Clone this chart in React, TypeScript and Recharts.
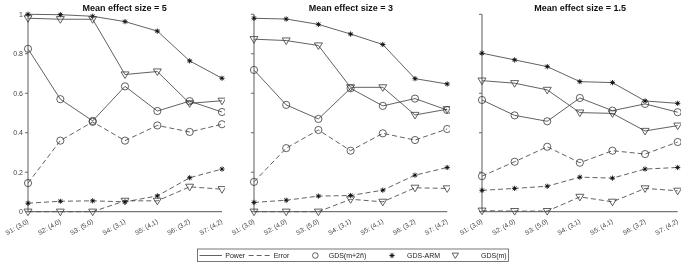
import React from "react";
import { LineChart, Line, XAxis, YAxis } from "recharts";

const categories = ["S1: (3,0)", "S2: (4,0)", "S3: (5,0)", "S4: (3,1)", "S5: (4,1)", "S6: (3,2)", "S7: (4,2)"];
const panelTitles = ["Mean effect size = 5", "Mean effect size = 3", "Mean effect size = 1.5"];
const yTicks = [0, 0.2, 0.4, 0.6, 0.8, 1];

// Mean effect size = 5
const p5PowerM2n = [0.825, 0.57, 0.46, 0.635, 0.51, 0.56, 0.505];
const p5ErrorM2n = [0.145, 0.36, 0.455, 0.36, 0.437, 0.404, 0.443];
const p5PowerArm = [1.0, 0.998, 0.99, 0.963, 0.915, 0.764, 0.676];
const p5ErrorArm = [0.043, 0.053, 0.055, 0.05, 0.08, 0.172, 0.216];
const p5PowerM = [0.98, 0.975, 0.975, 0.695, 0.71, 0.549, 0.562];
const p5ErrorM = [0, 0, 0, 0.055, 0.055, 0.126, 0.114];

// Mean effect size = 3
const p3PowerM2n = [0.718, 0.541, 0.47, 0.625, 0.536, 0.573, 0.515];
const p3ErrorM2n = [0.151, 0.322, 0.414, 0.309, 0.397, 0.363, 0.419];
const p3PowerArm = [0.98, 0.976, 0.949, 0.9, 0.847, 0.674, 0.647];
const p3ErrorArm = [0.047, 0.058, 0.079, 0.082, 0.109, 0.185, 0.224];
const p3PowerM = [0.874, 0.867, 0.842, 0.63, 0.63, 0.49, 0.519];
const p3ErrorM = [0, 0, 0, 0.063, 0.05, 0.121, 0.118];

// Mean effect size = 1.5
const p15PowerM2n = [0.566, 0.488, 0.458, 0.576, 0.512, 0.546, 0.504];
const p15ErrorM2n = [0.18, 0.253, 0.329, 0.248, 0.309, 0.292, 0.353];
const p15PowerArm = [0.803, 0.769, 0.735, 0.659, 0.654, 0.561, 0.549];
const p15ErrorArm = [0.108, 0.118, 0.129, 0.175, 0.17, 0.216, 0.224];
const p15PowerM = [0.664, 0.651, 0.617, 0.502, 0.498, 0.409, 0.436];
const p15ErrorM = [0.005, 0.003, 0.003, 0.075, 0.05, 0.118, 0.106];

const legendLabels = ["Power", "Error", "GDS(m+2ñ)", "GDS-ARM", "GDS(m)"];

const FONT = "'Liberation Sans', Arial, sans-serif";
const LINE = "#3a3a3a";

const buildRows = (pm2n: number[], em2n: number[], parm: number[], earm: number[], pm: number[], em: number[]) =>
  categories.map((c, i) => ({
    cat: c,
    pm2n: pm2n[i],
    em2n: em2n[i],
    parm: parm[i],
    earm: earm[i],
    pm: pm[i],
    em: em[i],
  }));

const panels = [
  { title: panelTitles[0], rows: buildRows(p5PowerM2n, p5ErrorM2n, p5PowerArm, p5ErrorArm, p5PowerM, p5ErrorM), left: 27.7, right: 221.7, labels: true },
  { title: panelTitles[1], rows: buildRows(p3PowerM2n, p3ErrorM2n, p3PowerArm, p3ErrorArm, p3PowerM, p3ErrorM), left: 254.3, right: 447.5, labels: false },
  { title: panelTitles[2], rows: buildRows(p15PowerM2n, p15ErrorM2n, p15PowerArm, p15ErrorArm, p15PowerM, p15ErrorM), left: 482.3, right: 678, labels: false },
];

const circleShape = (cx: number, cy: number, key?: any, r = 3.6) => (
  <circle key={key} cx={cx} cy={cy} r={r} fill="none" stroke={LINE} strokeWidth={0.8} />
);
const triShape = (cx: number, cy: number, key?: any, s = 1) => (
  <path key={key} d={`M${cx - 4 * s},${cy - 2.6 * s} L${cx + 4 * s},${cy - 2.6 * s} L${cx},${cy + 4 * s} Z`} fill="none" stroke={LINE} strokeWidth={0.8} />
);
const starShape = (cx: number, cy: number, key?: any) => (
  <g key={key}>
    <path
      d={`M${cx - 2.6},${cy} L${cx + 2.6},${cy} M${cx},${cy - 2.6} L${cx},${cy + 2.6} M${cx - 1.9},${cy - 1.9} L${cx + 1.9},${cy + 1.9} M${cx - 1.9},${cy + 1.9} L${cx + 1.9},${cy - 1.9}`}
      stroke="#111"
      strokeWidth={0.9}
    />
    <circle cx={cx} cy={cy} r={1.1} fill="#111" />
  </g>
);

const makeDot = (shape: (cx: number, cy: number, key?: any) => React.ReactElement) => (props: any) => {
  const { cx, cy, index } = props;
  if (cx == null || cy == null) return <g key={`d${index}`} />;
  return shape(cx, cy, `d${index}`);
};

const XTick = (props: any) => {
  const { x, y, payload } = props;
  return (
    <g transform={`translate(${x + 1},${y + 11})`}>
      <text textAnchor="end" transform="rotate(-30)" fontSize={6.6} fontFamily={FONT} fill="#444">
        {payload.value}
      </text>
    </g>
  );
};

const CH = 250;
const TOP = 14.3;
const PLOT_H = 197.4;
const YW = 30;
const RM = 3;

const Panel = ({ p }: { p: any }) => {
  const plotW = p.right - p.left;
  const w = plotW + YW + RM;
  return (
    <div style={{ position: "absolute", left: p.left - YW, top: 0, width: w, height: CH, willChange: "transform" }}>
      <LineChart width={w} height={CH} data={p.rows} margin={{ top: TOP, right: RM, left: 0, bottom: 0 }}>
        <XAxis
          dataKey="cat"
          height={CH - TOP - PLOT_H}
          tickLine={false}
          tickSize={0}
          tickMargin={0}
          interval={0}
          tick={<XTick />}
          axisLine={{ stroke: "#555", strokeWidth: 1 }}
        />
        <XAxis xAxisId="top" orientation="top" dataKey="cat" height={0} tick={false} tickLine={false} axisLine={{ stroke: "#222", strokeWidth: 1 }} />
        <YAxis
          width={YW}
          domain={[0, 1]}
          ticks={yTicks}
          interval={0}
          tickSize={3}
          tickMargin={2}
          tickLine={{ stroke: "#666" }}
          axisLine={{ stroke: "#777", strokeWidth: 1.2 }}
          tickFormatter={(v: number) => (p.labels ? String(v) : "")}
          tick={{ fontSize: 7, fontFamily: FONT, fill: "#444" }}
        />
        <YAxis yAxisId="right" orientation="right" width={0} domain={[0, 1]} tick={false} tickLine={false} axisLine={{ stroke: "#222", strokeWidth: 1 }} />
        <Line dataKey="pm2n" stroke={LINE} strokeWidth={0.8} dot={makeDot(circleShape)} isAnimationActive={false} />
        <Line dataKey="em2n" stroke={LINE} strokeWidth={0.8} strokeDasharray="5 3" dot={makeDot(circleShape)} isAnimationActive={false} />
        <Line dataKey="parm" stroke={LINE} strokeWidth={0.8} dot={makeDot(starShape)} isAnimationActive={false} />
        <Line dataKey="earm" stroke={LINE} strokeWidth={0.8} strokeDasharray="5 3" dot={makeDot(starShape)} isAnimationActive={false} />
        <Line dataKey="pm" stroke={LINE} strokeWidth={0.8} dot={makeDot(triShape)} isAnimationActive={false} />
        <Line dataKey="em" stroke={LINE} strokeWidth={0.8} strokeDasharray="5 3" dot={makeDot(triShape)} isAnimationActive={false} />
      </LineChart>
    </div>
  );
};

export default function App() {
  const lgY = 255.5;
  const txt = { fontSize: 7, fontFamily: FONT, fill: "#222" } as any;
  return (
    <div style={{ position: "fixed", left: 0, top: 0, width: 682, height: 263, background: "#fff", overflow: "hidden" }}>
      {panels.map((p, i) => (
        <Panel key={i} p={p} />
      ))}
      <svg width={682} height={263} style={{ position: "absolute", left: 0, top: 0, pointerEvents: "none" }}>
        {panels.map((p, i) => (
          <text key={i} x={(p.left + p.right) / 2} y={10.5} textAnchor="middle" fontSize={9} fontWeight="bold" fontFamily={FONT} fill="#111">
            {p.title}
          </text>
        ))}
        <rect x={197.5} y={249} width={311} height={12.5} fill="#fff" stroke="#555" strokeWidth={0.8} />
        <line x1={199.5} y1={lgY} x2={222} y2={lgY} stroke={LINE} strokeWidth={0.8} />
        <text x={225.3} y={lgY + 2.5} {...txt}>{legendLabels[0]}</text>
        <line x1={248.7} y1={lgY} x2={272} y2={lgY} stroke={LINE} strokeWidth={0.8} strokeDasharray="5 3" />
        <text x={273.7} y={lgY + 2.5} {...txt}>{legendLabels[1]}</text>
        {circleShape(315.3, lgY, "lc", 2.8)}
        <text x={328.7} y={lgY + 2.5} {...txt}>{legendLabels[2]}</text>
        {starShape(392, lgY, "ls")}
        <text x={407} y={lgY + 2.5} {...txt}>{legendLabels[3]}</text>
        {triShape(455.3, lgY - 0.3, "lt", 0.8)}
        <text x={481} y={lgY + 2.5} {...txt}>{legendLabels[4]}</text>
      </svg>
    </div>
  );
}
